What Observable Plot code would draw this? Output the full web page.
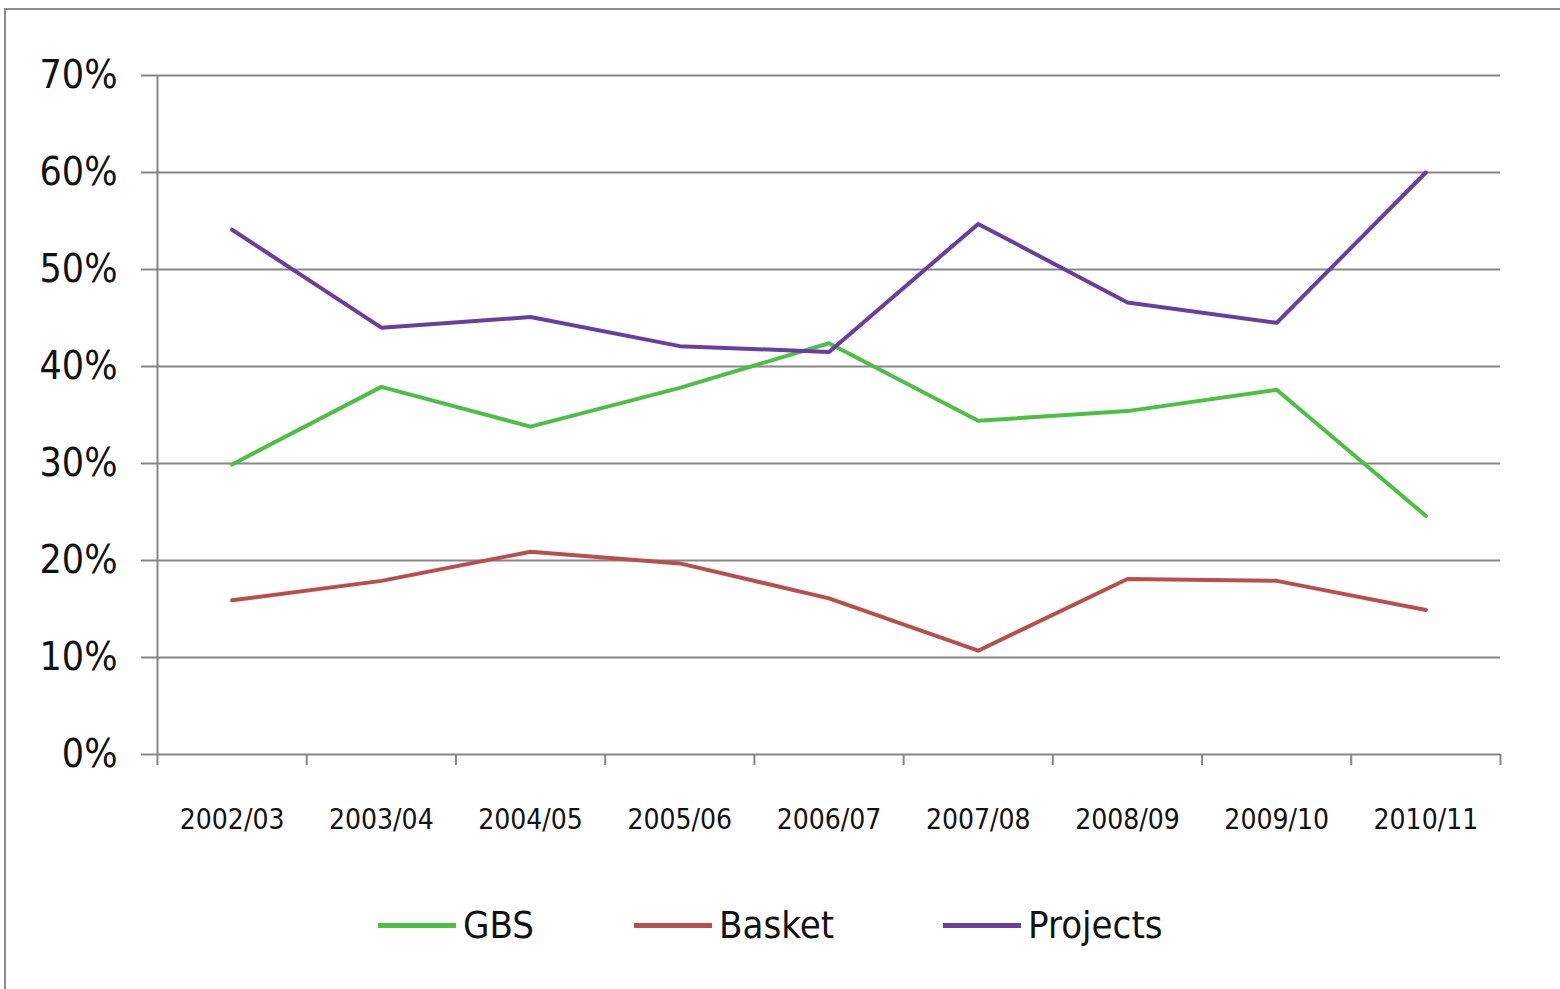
<!DOCTYPE html>
<html><head><meta charset="utf-8">
<script src="https://cdn.jsdelivr.net/npm/d3@7"></script>
<script src="https://cdn.jsdelivr.net/npm/@observablehq/plot@0.6"></script>
<style>
body{margin:0;background:#fff;width:1560px;height:989px;overflow:hidden;position:relative;}
#frame{position:absolute;left:4px;top:8px;width:1600px;height:1100px;border:2px solid #8c8c8c;}
#chart{position:absolute;left:0;top:0}
.leg{position:absolute;top:903px;display:flex;align-items:center;font-family:"DejaVu Sans Condensed",sans-serif;font-size:38px;color:#111;}
.leg .sw{width:78px;height:5px;margin-right:7px;}
</style></head><body>
<div id="frame"></div><div id="chart"></div>
<script>
const categories = ["2002/03","2003/04","2004/05","2005/06","2006/07","2007/08","2008/09","2009/10","2010/11"];
const gbs      = [29.9, 37.9, 33.8, 37.8, 42.4, 34.4, 35.4, 37.6, 24.6];
const basket   = [15.9, 17.9, 20.9, 19.7, 16.1, 10.7, 18.1, 17.9, 14.9];
const projects = [54.1, 44.0, 45.1, 42.1, 41.5, 54.7, 46.6, 44.5, 60.0];
const seriesNames  = ["GBS", "Basket", "Projects"];
const seriesColors = ["#4dbf45", "#b94f4c", "#6a3d9e"];
const yTicks = [0, 10, 20, 30, 40, 50, 60, 70];

const rows = [];
[gbs, basket, projects].forEach((vals, s) =>
  vals.forEach((v, i) => rows.push({series: seriesNames[s], idx: i, cat: categories[i], value: v})));

const n = categories.length;
const grey = "#868686";
const plot = Plot.plot({
  width: 1560, height: 870,
  marginLeft: 157, marginRight: 60, marginTop: 75, marginBottom: 116,
  style: {fontFamily: "'DejaVu Sans Condensed',sans-serif", color: "#111", background: "transparent"},
  x: {type: "linear", domain: [0, n]},
  y: {domain: [0, 70]},
  color: {domain: seriesNames, range: seriesColors},
  marks: [
    Plot.gridY(yTicks, {stroke: grey, strokeOpacity: 1, strokeWidth: 2}),
    Plot.axisY({ticks: yTicks, tickSize: 16, tickPadding: 24, tickFormat: d => d + "%",
      fontSize: 39, stroke: grey, strokeWidth: 2, label: null}),
    Plot.ruleX([0], {y1: 0, y2: 70, stroke: grey, strokeWidth: 2}),
    Plot.axisX({ticks: d3.range(0, n + 1), tickSize: 11, tickFormat: () => "", stroke: grey, strokeWidth: 2, label: null}),
    Plot.axisX({ticks: d3.range(n).map(i => i + 0.5), tickSize: 0, tickPadding: 55,
      tickFormat: d => categories[Math.floor(d)], fontSize: 28, label: null,
      fontFamily: "'DejaVu Sans Condensed',sans-serif", style: "letter-spacing:1.5px"}),
    Plot.line(rows, {x: d => d.idx + 0.5, y: "value", z: "series", stroke: "series", strokeWidth: 4})
  ]
});
document.getElementById("chart").appendChild(plot);

const legLefts = [378, 634, 943];
seriesNames.forEach((name, i) => {
  const d = document.createElement("div");
  d.className = "leg";
  d.style.left = legLefts[i] + "px";
  d.innerHTML = `<div class="sw" style="background:${seriesColors[i]}"></div><span>${name}</span>`;
  document.body.appendChild(d);
});
</script>
</body></html>
